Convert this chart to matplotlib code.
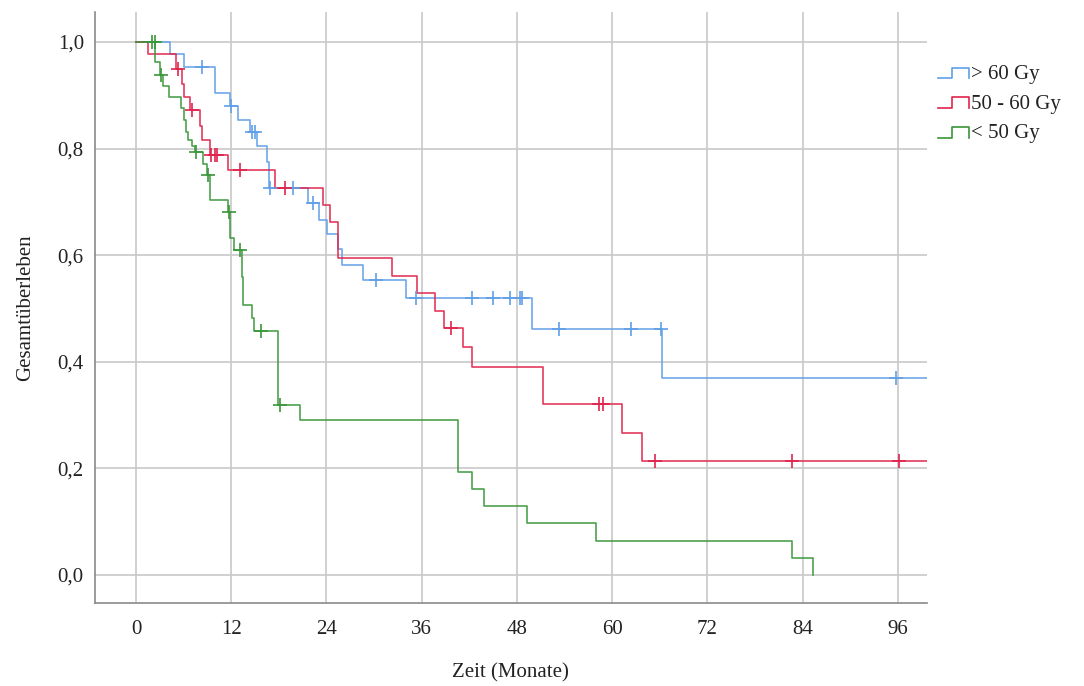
import numpy as np
import matplotlib
matplotlib.use("Agg")
import matplotlib.pyplot as plt
from matplotlib.lines import Line2D
from matplotlib.legend_handler import HandlerBase

# ---------------- data ----------------
groups = ["> 60 Gy", "50 - 60 Gy", "< 50 Gy"]

blue_times = [4.3, 6.1, 10.0, 11.8, 12.9, 14.4, 15.2, 16.5, 16.8, 21.7, 23.1, 24.1,
              25.5, 25.9, 28.6, 34.0, 49.9, 66.3]
blue_surv = [0.977, 0.954, 0.905, 0.880, 0.854, 0.832, 0.804, 0.775, 0.727, 0.698,
             0.667, 0.639, 0.611, 0.582, 0.553, 0.520, 0.462, 0.370]
blue_cens = [8.3, 12.0, 14.6, 15.0, 16.9, 19.8, 22.3, 30.3, 35.3, 42.3, 45.0, 47.1,
             48.4, 48.6, 53.3, 62.4, 66.2, 95.8]
blue_end = 100.0

red_times = [1.5, 5.1, 5.8, 6.0, 6.8, 8.1, 8.3, 9.3, 11.6, 17.5, 23.6, 24.4, 25.4,
             32.3, 35.4, 37.7, 38.8, 41.2, 42.4, 51.3, 61.3, 63.8]
red_surv = [0.977, 0.950, 0.922, 0.896, 0.872, 0.842, 0.816, 0.788, 0.759, 0.727,
            0.694, 0.663, 0.594, 0.561, 0.529, 0.495, 0.463, 0.427, 0.391, 0.320,
            0.267, 0.214]
red_cens = [5.3, 7.0, 9.5, 10.0, 10.2, 13.1, 18.8, 39.7, 58.3, 58.8, 65.4, 82.7, 96.1]
red_end = 100.0

green_times = [2.45, 3.0, 3.4, 4.1, 5.7, 6.0, 6.3, 6.6, 7.0, 7.4, 8.5, 8.9, 9.3, 11.6,
               11.8, 12.3, 13.3, 13.5, 14.6, 14.9, 17.9, 20.7, 40.6, 42.4, 43.8,
               49.3, 58.0, 82.7, 85.3]
green_surv = [0.962, 0.938, 0.918, 0.896, 0.876, 0.854, 0.832, 0.816, 0.804, 0.794,
              0.772, 0.750, 0.704, 0.682, 0.632, 0.610, 0.560, 0.507, 0.482, 0.457,
              0.319, 0.290, 0.194, 0.161, 0.129, 0.097, 0.064, 0.032, 0.0]
green_cens = [2.0, 2.35, 3.2, 7.6, 9.1, 11.7, 13.1, 15.7, 18.1]
green_end = 85.3

x_ticks = [0, 12, 24, 36, 48, 60, 72, 84, 96]
y_ticks = [0.0, 0.2, 0.4, 0.6, 0.8, 1.0]
y_ticklabels = ["0,0", "0,2", "0,4", "0,6", "0,8", "1,0"]

colors = ["#5f9fe6", "#e0244c", "#3a963a"]

series = [
    (blue_times, blue_surv, blue_cens, blue_end),
    (red_times, red_surv, red_cens, red_end),
    (green_times, green_surv, green_cens, green_end),
]

# ---------------- figure ----------------
plt.rcParams["font.family"] = ["Liberation Serif", "DejaVu Serif"]
fig = plt.figure(figsize=(10.84, 6.86), dpi=100)
ax = fig.add_axes([0.0876, 0.121, 0.855 - 0.0876, 0.9825 - 0.121])

handles = []
for (t, s, c, end), col, name in zip(series, colors, groups):
    xs = [0.0] + list(t) + [end]
    ys = [1.0] + list(s) + [s[-1]]
    ln, = ax.step(xs, ys, where="post", color=col, lw=1.2, alpha=0.9, label=name,
                  zorder=3)
    handles.append(ln)
    tt = np.array(t)
    ss = np.array([1.0] + list(s))
    idx = np.searchsorted(tt, np.array(c), side="right")
    ax.plot(c, ss[idx], linestyle="none", marker="+", markersize=10, mew=1.2,
            color=col, zorder=4)

ax.set_xlim(-5.17, 99.65)
ax.set_ylim(-0.0525, 1.0563)
ax.set_xticks(x_ticks)
ax.set_yticks(y_ticks)
ax.set_yticklabels(y_ticklabels)
ax.grid(True, color="#c8c8c8", lw=1.2, zorder=0)
ax.set_axisbelow(True)
for side in ["top", "right"]:
    ax.spines[side].set_visible(False)
for side in ["left", "bottom"]:
    ax.spines[side].set_color("#8a8a8a")
    ax.spines[side].set_linewidth(1.2)
ax.tick_params(length=0, labelsize=15, colors="#222222", pad=12)
ax.tick_params(axis="y", pad=8)
ax.set_xlabel("Zeit (Monate)", fontsize=15, color="#222222", labelpad=18)
ax.set_ylabel("Gesamtüberleben", fontsize=15, color="#222222", labelpad=16)


class StepHandler(HandlerBase):
    def create_artists(self, legend, orig_handle, xdescent, ydescent, width, height,
                       fontsize, trans):
        x0, y0 = -xdescent, -ydescent
        lo, hi = y0 + 0.05 * height, y0 + 0.8 * height
        xs = [x0, x0 + 0.45 * width, x0 + 0.45 * width, x0 + width, x0 + width]
        ys = [lo, lo, hi, hi, lo]
        line = Line2D(xs, ys, color=orig_handle.get_color(), lw=1.2)
        line.set_transform(trans)
        return [line]


leg = fig.legend(handles=handles, labels=groups, loc="upper left",
                 bbox_to_anchor=(0.858, 0.918), frameon=False, fontsize=15,
                 handler_map={Line2D: StepHandler()}, handlelength=1.45,
                 handletextpad=0.1, labelspacing=0.48, borderaxespad=0)
for txt in leg.get_texts():
    txt.set_color("#222222")

fig.savefig("out.png", dpi=100)
